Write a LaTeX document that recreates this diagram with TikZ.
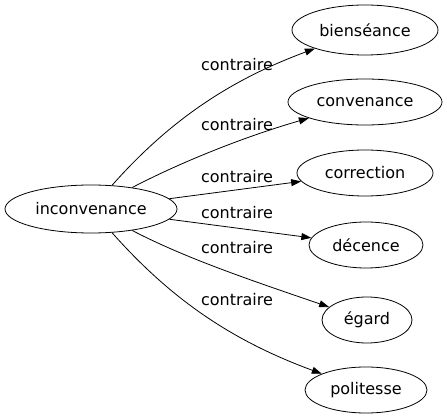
\documentclass[tikz,border=0pt]{standalone}
\usepackage{fontspec}
\setmainfont{DejaVu Sans}
\usetikzlibrary{shapes.geometric,arrows.meta}

\begin{document}
\begin{tikzpicture}[x=1pt, y=-1pt,
  word/.style={ellipse, draw, line width=0.8pt, inner sep=0pt, font=\fontsize{16}{19}\selectfont},
  lbl/.style={font=\fontsize{16}{19}\selectfont, inner sep=0pt},
  arr/.style={line width=0.8pt, -{Triangle[length=10pt, width=7pt]}}]

\useasboundingbox (0,0) rectangle (447,419);

% the word and its opposites
\node[word, minimum width=172pt, minimum height=48pt] (inc) at (91,209) {inconvenance};
\node[word, minimum width=146pt, minimum height=50pt] (bien) at (365,30) {biensé{}ance};
\node[word, minimum width=154pt, minimum height=46pt] (conv) at (365,102) {convenance};
\node[word, minimum width=136pt, minimum height=46pt] (corr) at (365,173) {correction};
\node[word, minimum width=114pt, minimum height=46pt] (dec) at (366,245) {décence};
\node[word, minimum width=90pt, minimum height=46pt] (ega) at (367,320) {égard};
\node[word, minimum width=122pt, minimum height=46pt] (poli) at (366,390) {politesse};

% the edges
\draw[arr] (inc) .. controls (170,120) and (230,80) .. (bien);
\draw[arr] (inc) .. controls (185,160) and (250,135) .. (conv);
\draw[arr] (inc) -- (corr);
\draw[arr] (inc) -- (dec);
\draw[arr] (inc) .. controls (185,258) and (250,280) .. (ega);
\draw[arr] (inc) .. controls (170,298) and (230,340) .. (poli);

% edge labels
\foreach \y [count=\i] in {65, 125, 177, 213, 248, 300}
{
	\node[lbl] (c\i) at (237,\y) {contraire};
}

\end{tikzpicture}
\end{document}
